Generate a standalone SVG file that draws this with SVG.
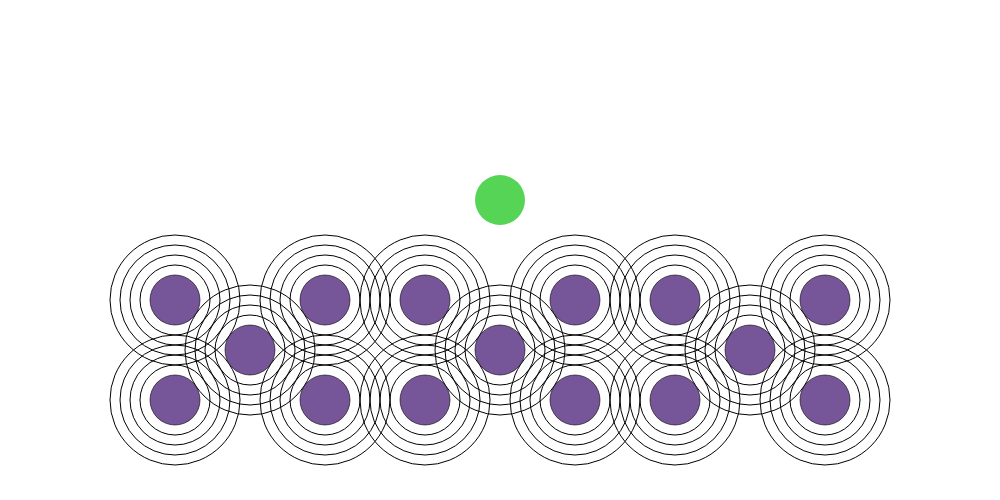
<svg xmlns="http://www.w3.org/2000/svg" width="1000" height="500" viewBox="0 0 1000 500">
<style>
.ring{fill:none;stroke:#000;stroke-width:1}
.atom{fill:#775599;stroke:#000;stroke-width:0.6}
.probe{fill:#55d455}
</style>
<defs>
<g id="rings">
<circle class="ring" r="35"/><circle class="ring" r="45"/><circle class="ring" r="55"/><circle class="ring" r="65"/>
</g>
</defs>
<rect width="1000" height="500" fill="#fff"/>
<g id="field">
<use href="#rings" x="175" y="300"/><use href="#rings" x="325" y="300"/><use href="#rings" x="425" y="300"/>
<use href="#rings" x="575" y="300"/><use href="#rings" x="675" y="300"/><use href="#rings" x="825" y="300"/>
<use href="#rings" x="175" y="400"/><use href="#rings" x="325" y="400"/><use href="#rings" x="425" y="400"/>
<use href="#rings" x="575" y="400"/><use href="#rings" x="675" y="400"/><use href="#rings" x="825" y="400"/>
<use href="#rings" x="250" y="350"/><use href="#rings" x="500" y="350"/><use href="#rings" x="750" y="350"/>
</g>
<g id="atoms">
<circle id="a1" class="atom" cx="175" cy="300" r="25"/><circle id="a2" class="atom" cx="325" cy="300" r="25"/><circle id="a3" class="atom" cx="425" cy="300" r="25"/>
<circle id="a4" class="atom" cx="575" cy="300" r="25"/><circle id="a5" class="atom" cx="675" cy="300" r="25"/><circle id="a6" class="atom" cx="825" cy="300" r="25"/>
<circle id="a7" class="atom" cx="175" cy="400" r="25"/><circle id="a8" class="atom" cx="325" cy="400" r="25"/><circle id="a9" class="atom" cx="425" cy="400" r="25"/>
<circle id="a10" class="atom" cx="575" cy="400" r="25"/><circle id="a11" class="atom" cx="675" cy="400" r="25"/><circle id="a12" class="atom" cx="825" cy="400" r="25"/>
<circle id="a13" class="atom" cx="250" cy="350" r="25"/><circle id="a14" class="atom" cx="500" cy="350" r="25"/><circle id="a15" class="atom" cx="750" cy="350" r="25"/>
</g>
<g id="probe"><circle class="probe" cx="500" cy="200" r="25"/></g>
</svg>
